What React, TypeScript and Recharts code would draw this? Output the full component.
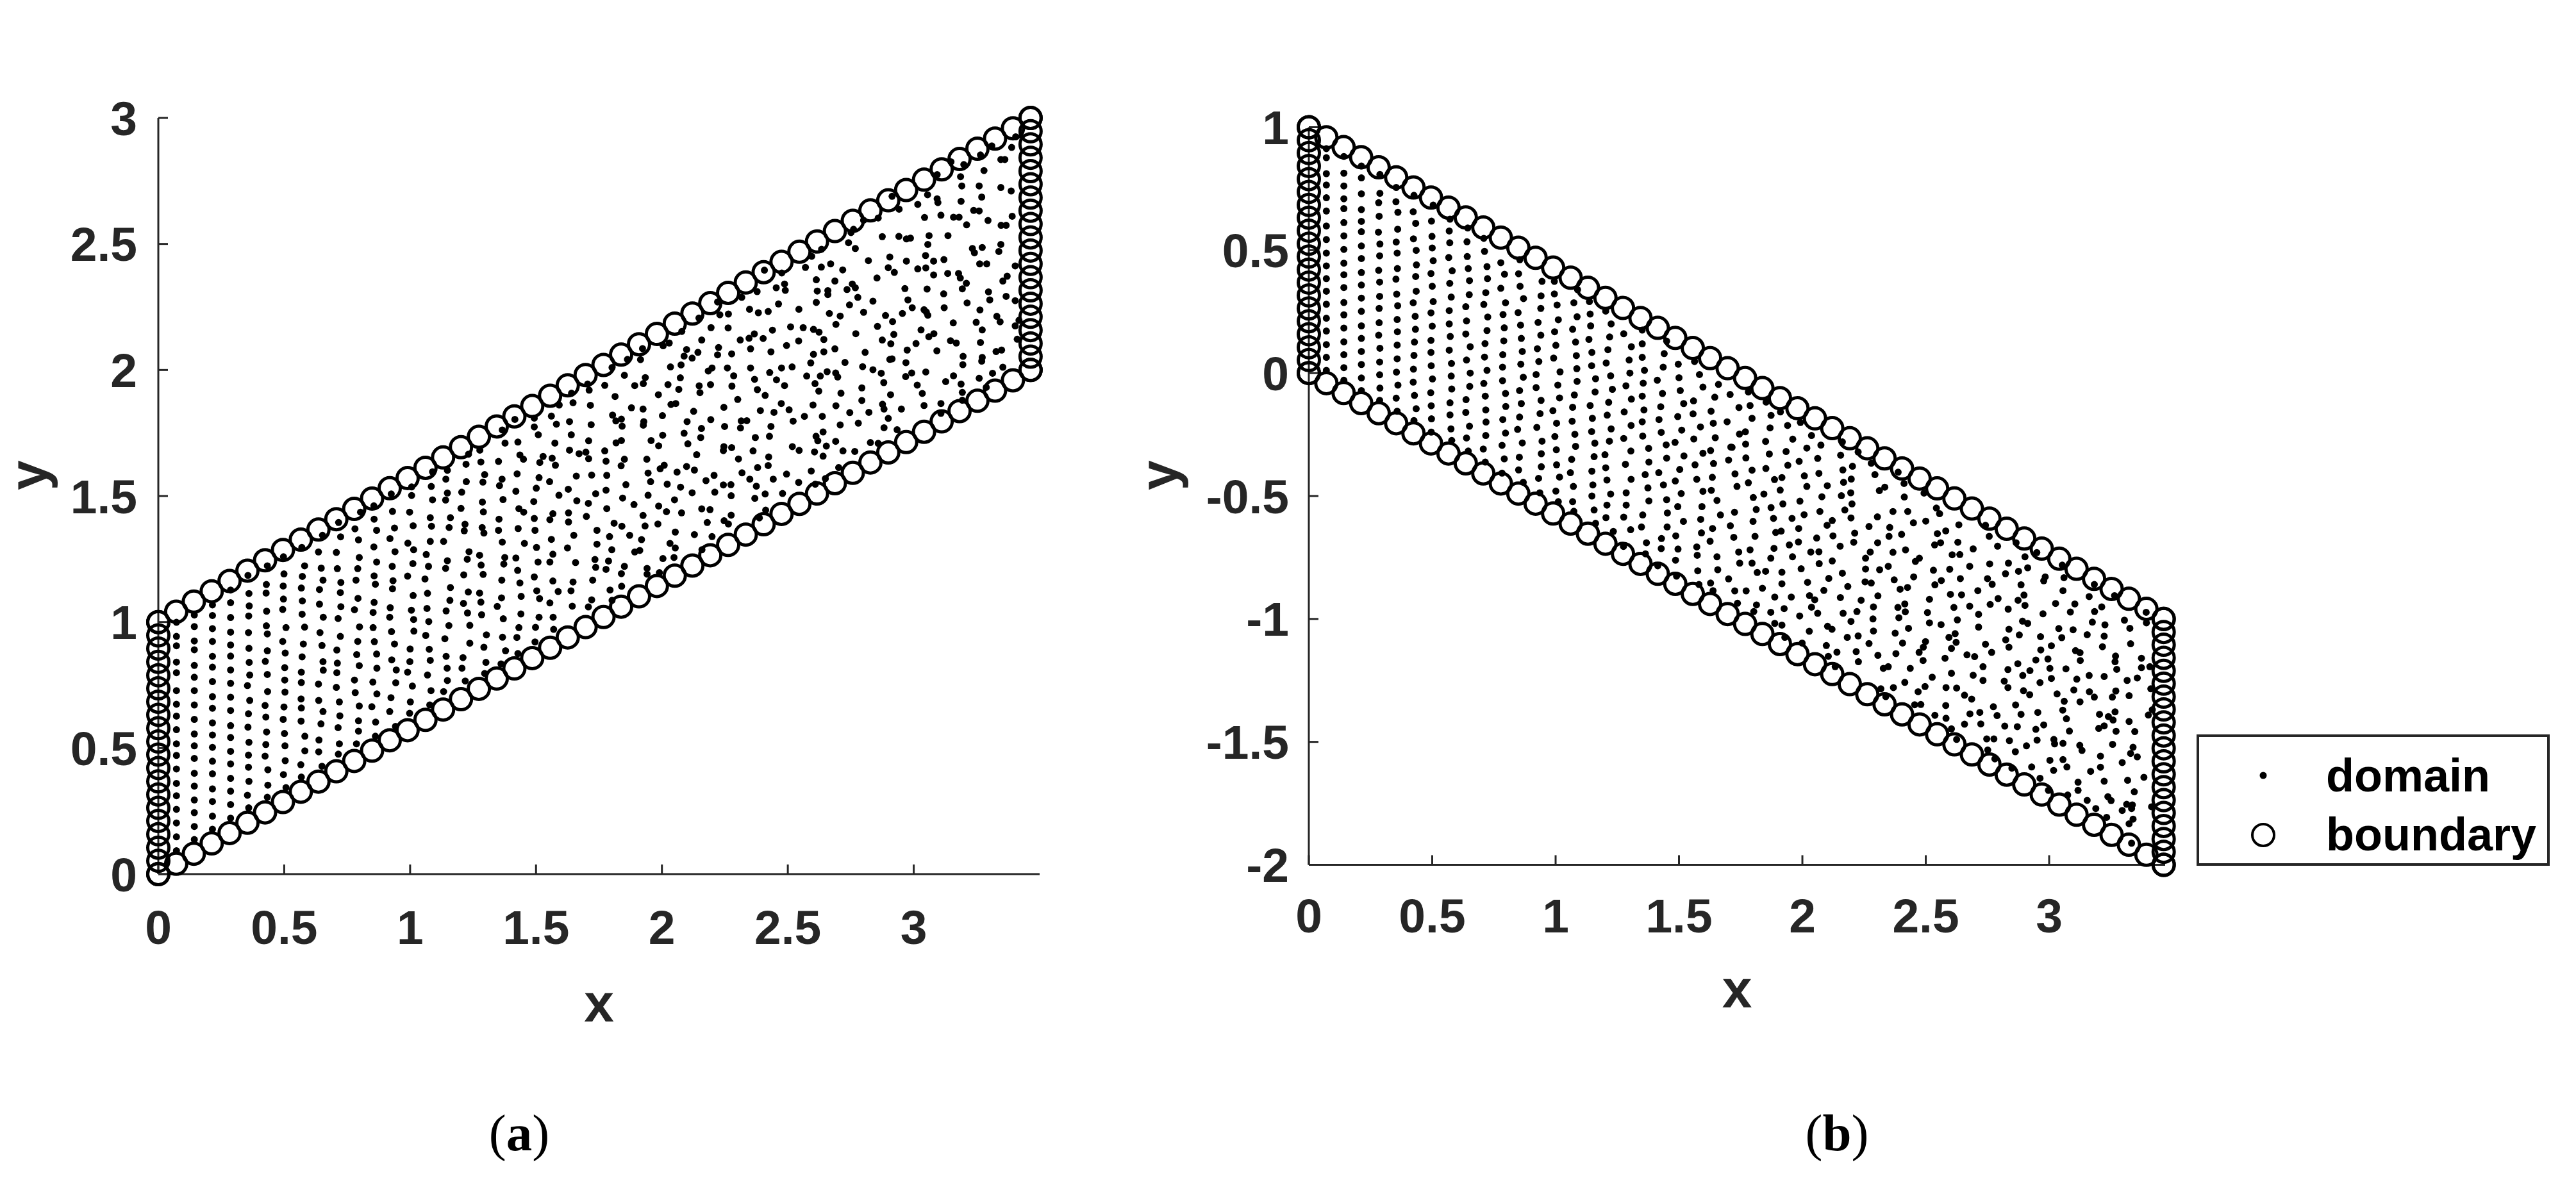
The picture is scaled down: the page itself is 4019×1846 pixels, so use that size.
import { Legend, Scatter, ScatterChart, XAxis, YAxis } from "recharts"

type Pair = number[]

const xTicks = [0, 0.5, 1, 1.5, 2, 2.5, 3]
const yTicksA = [0, 0.5, 1, 1.5, 2, 2.5, 3]
const yTicksB = [-2, -1.5, -1, -0.5, 0, 0.5, 1]
const legendLabels = ["domain", "boundary"]

// shared spacing of the slanted edges
const edgeX = [0,.071,.141,.212,.283,.354,.424,.495,.566,.636,.707,.778,.849,.919,.99,1.061,1.131,1.202,1.273,1.344,1.414,1.485,1.556,1.626,1.697,1.768,1.838,1.909,1.98,2.051,2.121,2.192,2.263,2.333,2.404,2.475,2.546,2.616,2.687,2.758,2.828,2.899,2.97,3.041,3.111,3.182,3.253,3.323,3.394,3.464]
const aLowerY = [0,.041,.081,.122,.163,.204,.245,.286,.327,.367,.408,.449,.49,.531,.571,.612,.653,.694,.735,.776,.816,.857,.898,.939,.98,1.02,1.061,1.102,1.143,1.184,1.224,1.265,1.306,1.347,1.388,1.429,1.469,1.51,1.551,1.592,1.633,1.673,1.714,1.755,1.796,1.837,1.878,1.918,1.959,2]
const aUpperY = [1,1.041,1.081,1.122,1.163,1.204,1.245,1.286,1.327,1.367,1.408,1.449,1.49,1.531,1.571,1.612,1.653,1.694,1.735,1.776,1.816,1.857,1.898,1.939,1.98,2.02,2.061,2.102,2.143,2.184,2.224,2.265,2.306,2.347,2.388,2.429,2.469,2.51,2.551,2.592,2.633,2.673,2.714,2.755,2.796,2.837,2.878,2.918,2.959,3]
const aLeftY = [0,.053,.105,.158,.211,.263,.316,.368,.421,.474,.526,.579,.632,.684,.737,.789,.842,.895,.947,1]
const aRightY = [2,2.053,2.105,2.158,2.211,2.263,2.316,2.368,2.421,2.474,2.526,2.579,2.632,2.684,2.737,2.789,2.842,2.895,2.947,3]
const bUpperY = [1,.959,.919,.878,.837,.796,.755,.714,.673,.633,.592,.551,.51,.469,.429,.388,.347,.306,.265,.224,.184,.143,.102,.061,.02,-.02,-.061,-.102,-.143,-.184,-.224,-.265,-.306,-.347,-.388,-.429,-.469,-.51,-.551,-.592,-.633,-.673,-.714,-.755,-.796,-.837,-.878,-.918,-.959,-1]
const bLowerY = [0,-.041,-.081,-.122,-.163,-.204,-.245,-.286,-.327,-.367,-.408,-.449,-.49,-.531,-.571,-.612,-.653,-.694,-.735,-.776,-.816,-.857,-.898,-.939,-.98,-1.02,-1.061,-1.102,-1.143,-1.184,-1.224,-1.265,-1.306,-1.347,-1.388,-1.429,-1.469,-1.51,-1.551,-1.592,-1.633,-1.673,-1.714,-1.755,-1.796,-1.837,-1.878,-1.918,-1.959,-2]
const bLeftY = [1,.947,.895,.842,.789,.737,.684,.632,.579,.526,.474,.421,.368,.316,.263,.211,.158,.105,.053,0]
const bRightY = [-1,-1.053,-1.105,-1.158,-1.211,-1.263,-1.316,-1.368,-1.421,-1.474,-1.526,-1.579,-1.632,-1.684,-1.737,-1.789,-1.842,-1.895,-1.947,-2]

const aDomain: Pair[] = [
[.072,.999],[.072,.943],[.072,.906],[.072,.841],[.072,.799],[.072,.728],[.072,.674],[.072,.627],[.072,.573],[.072,.517],[.072,.471],[.072,.417],[.072,.36],[.072,.311],[.072,.257],[.072,.203],[.072,.148],[.072,.093],
[.143,1.028],[.143,.982],[.143,.925],[.143,.89],[.143,.828],[.143,.781],[.143,.728],[.143,.671],[.143,.614],[.143,.556],[.143,.509],[.143,.459],[.143,.4],[.143,.349],[.143,.294],[.143,.244],[.143,.189],[.143,.137],
[.215,1.068],[.215,1.026],[.215,.974],[.215,.923],[.215,.864],[.215,.821],[.215,.764],[.215,.704],[.215,.658],[.215,.6],[.215,.552],[.215,.503],[.215,.448],[.215,.398],[.215,.338],[.215,.288],[.215,.23],[.215,.178],
[.287,1.127],[.287,1.077],[.287,1.018],[.287,.96],[.287,.909],[.287,.865],[.287,.81],[.287,.757],[.287,.702],[.287,.649],[.287,.589],[.287,.542],[.287,.487],[.287,.437],[.287,.38],[.287,.329],[.287,.276],[.287,.222],
[.356,1.185],[.36,1.113],[.361,1.064],[.359,1.024],[.358,.958],[.36,.896],[.361,.84],[.363,.79],[.354,.748],[.363,.689],[.358,.636],[.356,.583],[.36,.523],[.358,.472],[.358,.424],[.36,.368],[.354,.313],[.359,.263],
[.433,1.223],[.429,1.149],[.428,1.115],[.43,1.043],[.429,.985],[.433,.953],[.433,.886],[.425,.844],[.433,.792],[.434,.724],[.424,.669],[.427,.623],[.43,.564],[.427,.514],[.424,.468],[.435,.414],[.435,.353],[.433,.305],
[.497,1.259],[.499,1.191],[.496,1.143],[.497,1.091],[.494,1.05],[.507,.978],[.494,.923],[.504,.877],[.502,.819],[.502,.77],[.503,.722],[.499,.663],[.496,.614],[.501,.558],[.503,.509],[.504,.45],[.497,.395],[.507,.343],
[.57,1.296],[.581,1.223],[.572,1.181],[.568,1.135],[.572,1.084],[.571,1.031],[.581,.98],[.576,.913],[.571,.862],[.568,.801],[.568,.76],[.567,.695],[.568,.659],[.567,.607],[.582,.547],[.582,.489],[.566,.434],[.568,.385],
[.652,1.344],[.636,1.278],[.647,1.214],[.654,1.166],[.64,1.129],[.64,1.071],[.655,1.019],[.642,.958],[.65,.907],[.654,.843],[.655,.809],[.636,.754],[.637,.689],[.654,.645],[.646,.596],[.638,.532],[.637,.485],[.65,.428],
[.716,1.395],[.724,1.338],[.707,1.276],[.711,1.212],[.725,1.157],[.723,1.117],[.725,1.061],[.714,1.014],[.723,.943],[.709,.889],[.711,.837],[.709,.799],[.707,.741],[.719,.683],[.721,.628],[.714,.581],[.719,.517],[.715,.476],
[.803,1.436],[.781,1.37],[.795,1.326],[.798,1.256],[.792,1.212],[.785,1.166],[.793,1.094],[.779,1.049],[.799,.981],[.792,.923],[.788,.871],[.798,.827],[.779,.77],[.782,.72],[.798,.667],[.795,.608],[.795,.567],[.787,.517],
[.857,1.408],[.867,1.364],[.856,1.298],[.867,1.238],[.857,1.183],[.862,1.15],[.857,1.078],[.853,1.038],[.853,.978],[.858,.922],[.867,.873],[.868,.817],[.852,.762],[.868,.715],[.848,.664],[.863,.603],[.862,.547],
[.93,1.439],[.938,1.373],[.92,1.331],[.94,1.279],[.929,1.221],[.932,1.164],[.93,1.132],[.921,1.057],[.919,1.019],[.926,.962],[.938,.913],[.927,.85],[.945,.81],[.943,.759],[.924,.7],[.919,.645],[.942,.586],
[.998,1.436],[1.012,1.382],[.991,1.313],[1.014,1.287],[1.011,1.232],[.99,1.182],[1.012,1.105],[1.005,1.047],[1.014,1.01],[1.015,.964],[1,.893],[.999,.843],[.99,.801],[1.009,.746],[1.001,.683],[.998,.638],
[1.08,1.414],[1.085,1.38],[1.08,1.32],[1.064,1.268],[1.073,1.221],[1.059,1.171],[1.069,1.114],[1.067,1.054],[1.074,1.002],[1.062,.947],[1.076,.892],[1.08,.848],[1.069,.79],[1.083,.728],[1.078,.671],
[1.16,1.414],[1.155,1.375],[1.133,1.32],[1.148,1.243],[1.141,1.213],[1.16,1.137],[1.158,1.086],[1.143,1.044],[1.154,.986],[1.138,.934],[1.143,.864],[1.147,.817],[1.148,.768],[1.133,.724],
[1.218,1.388],[1.215,1.362],[1.234,1.279],[1.227,1.249],[1.213,1.187],[1.231,1.119],[1.212,1.074],[1.228,1.036],[1.237,.987],[1.237,.916],[1.21,.859],[1.206,.817],[1.219,.766],
[1.286,1.375],[1.293,1.353],[1.276,1.265],[1.282,1.226],[1.29,1.189],[1.276,1.115],[1.281,1.079],[1.284,1.029],[1.303,.949],[1.293,.9],[1.301,.84],[1.296,.796],
[1.353,1.408],[1.351,1.364],[1.366,1.317],[1.376,1.256],[1.372,1.23],[1.364,1.166],[1.363,1.096],[1.346,1.062],[1.37,1.013],[1.367,.94],[1.379,.886],[1.361,.834],
[1.432,1.45],[1.451,1.436],[1.429,1.371],[1.454,1.312],[1.42,1.254],[1.427,1.205],[1.436,1.155],[1.441,1.102],[1.44,1.032],[1.432,.978],[1.424,.939],[1.428,.875],
[1.493,1.411],[1.496,1.364],[1.502,1.296],[1.508,1.238],[1.493,1.179],[1.503,1.124],[1.514,1.093],[1.512,1.019],[1.498,.979],[1.496,.921],
[1.567,1.43],[1.555,1.406],[1.561,1.328],[1.567,1.269],[1.555,1.238],[1.567,1.163],[1.588,1.121],[1.555,1.076],[1.568,1.019],[1.57,.971],
[1.629,1.433],[1.629,1.397],[1.65,1.344],[1.625,1.294],[1.657,1.236],[1.647,1.159],[1.639,1.124],[1.644,1.063],
[1.7,1.419],[1.742,1.364],[1.742,1.309],[1.734,1.248],[1.737,1.217],[1.725,1.166],[1.721,1.088],[1.708,1.06],
[1.705,1.944],[1.711,1.92],[1.641,1.908],[1.592,1.861],[1.647,1.87],[1.716,1.86],[1.561,1.817],[1.493,1.809],[1.416,1.804],[1.633,1.795],[1.581,1.785],[1.719,1.783],[1.493,1.774],[1.366,1.762],[1.64,1.743],[1.509,1.743],[1.709,1.719],[1.377,1.71],[1.428,1.714],[1.575,1.71],[1.633,1.682],[1.277,1.682],[1.232,1.666],[1.671,1.668],[1.698,1.674],[1.436,1.663],[1.45,1.646],[1.528,1.657],[1.564,1.65],[1.709,1.648],[1.515,1.633],[1.351,1.637],[1.281,1.635],[1.222,1.626],[1.577,1.622],[1.148,1.602],[1.089,1.596],[1.296,1.585],[1.425,1.588],[1.721,1.583],[1.66,1.579],[1.512,1.573],[1.142,1.567],[1.365,1.567],[1.223,1.557],[1.289,1.555],[1.554,1.557],[1.355,1.541],[1.084,1.538],[1.006,1.536],[1.501,1.531],[1.628,1.527],[1.42,1.519],[1.205,1.515],[1.148,1.512],[1.737,1.509],[.925,1.508],[1.006,1.502],[1.591,1.503],[1.089,1.485],[1.141,1.484],[1.369,1.486],[1.287,1.476],[1.491,1.478],[1.662,1.481],[1.708,1.471],[.856,1.461],[1.202,1.451],[1.291,1.437],
[3.405,2.925],[3.389,2.883],[3.31,2.889],[3.265,2.853],[3.199,2.815],[3.148,2.826],[3.346,2.835],[3.362,2.835],[3.279,2.791],[3.186,2.767],[3.093,2.775],[3.191,2.73],[3.26,2.73],[3.346,2.724],[3.387,2.71],[3.055,2.695],[2.914,2.689],[3.27,2.686],[3.093,2.679],[3.096,2.664],[3.188,2.669],[3.016,2.657],[2.942,2.638],[3.238,2.633],[3.26,2.631],[3.108,2.614],[3.043,2.605],[3.158,2.606],[3.18,2.606],[3.391,2.61],[3.295,2.593],[3.21,2.576],[3.347,2.574],[3.367,2.574],[2.859,2.603],[2.801,2.594],[2.761,2.558],[2.751,2.545],[2.875,2.529],[2.941,2.53],[2.971,2.52],[2.987,2.523],[3.061,2.533],[3.136,2.533],[2.741,2.505],[2.768,2.482],[3.056,2.498],[3.233,2.482],[3.272,2.486],[3.346,2.498],[3.338,2.47],[3.241,2.465],[2.634,2.479],[2.595,2.451],[3.047,2.454],[2.905,2.448],[2.82,2.434],[2.971,2.432],[3.079,2.432],[3.12,2.438],[3.262,2.421],[3.29,2.421],[2.57,2.407],[2.633,2.408],[2.67,2.421],[2.407,2.396],[2.718,2.397],[2.899,2.406],[3.016,2.401],[3.048,2.405],[3.403,2.413],[2.476,2.385],[2.923,2.387],[3.079,2.377],[3.135,2.383],[3.178,2.383],[3.185,2.365],[2.854,2.365],[2.613,2.358],[2.687,2.353],[3.371,2.372],[3.354,2.353],[3.209,2.344],[2.756,2.341],[2.454,2.326],[2.487,2.341],[2.49,2.316],[2.768,2.326],[2.735,2.319],[2.617,2.313],[2.659,2.315],[2.659,2.299],[2.965,2.323],[3.053,2.321],[3.193,2.322],[2.378,2.311],[3.119,2.302],[3.297,2.31],[2.778,2.288],[3.367,2.292],[2.317,2.288],[2.977,2.278],[2.838,2.273],[3.302,2.278],[2.613,2.268],[2.463,2.262],[2.745,2.258],[3.212,2.266],[3.403,2.275],[2.221,2.27],
[2.994,2.247],[3.121,2.247],[2.544,2.241],[2.348,2.241],[2.422,2.232],[2.383,2.227],[3.041,2.239],[2.801,2.229],[3.263,2.238],[2.665,2.224],[3.05,2.23],[3.056,2.217],[2.955,2.224],[2.23,2.219],[2.264,2.222],[2.888,2.216],[2.708,2.214],[2.147,2.206],[3.33,2.213],[3.343,2.191],[2.916,2.192],[3.157,2.187],[3.248,2.189],[2.691,2.181],[3.418,2.197],[2.856,2.173],[2.511,2.171],[2.561,2.168],[2.195,2.168],[2.263,2.167],[2.602,2.161],[3.403,2.175],[3.272,2.159],[2.439,2.158],[3.029,2.159],[2.079,2.153],[2.624,2.15],[3.08,2.144],[2.367,2.143],[2.77,2.144],[2.921,2.141],[3.06,2.132],[2.346,2.126],[2.402,2.125],[2.311,2.119],[2.643,2.121],[2.158,2.119],[2.875,2.119],[2.543,2.115],[3.411,2.122],[3.146,2.116],[3.169,2.107],[3.265,2.109],[2.029,2.107],[2.005,2.096],[2.909,2.104],[3.009,2.105],[2.495,2.097],[2.225,2.089],[2.687,2.084],[1.923,2.085],[2.352,2.084],[2.974,2.079],[2.098,2.081],[3.349,2.079],[3.327,2.073],[2.433,2.072],[2.643,2.072],[2.143,2.07],[2.807,2.07],[3.092,2.076],[2.221,2.06],[2.277,2.064],[2.088,2.055],[2.602,2.062],[3.196,2.054],[1.863,2.042],[2.12,2.047],[1.915,2.041],[3.272,2.05],[2.914,2.044],[2.905,2.042],[3.27,2.035],[2.969,2.029],[2.727,2.03],[2.591,2.028],[2.076,2.02],[3.195,2.021],[2.034,2.012],[1.802,2.01],[2.517,2.012],[2.26,2.008],[2.352,2.008],[2.797,2.013],[2.475,2.008],[2.199,2.008],[3.354,2.011],[2.838,2.001],[2.184,1.996],[1.851,1.979],[2.428,1.99],[2.656,1.993],[3.048,1.992],[2.871,1.987],[2.992,1.988],[2.968,1.974],[2.69,1.988],[2.698,1.972],[2.285,1.977],[2.629,1.976],[2.575,1.976],[3.313,1.987],[3.158,1.977],[2.073,1.969],[2.368,1.963],[1.934,1.97],[2.455,1.961],[3.26,1.967],[2.881,1.95],[3.127,1.954],[1.926,1.946],[1.892,1.938],[1.773,1.939],[2.024,1.942],[2.608,1.946],[2.193,1.942],[2.278,1.936],[2.487,1.938],[3.188,1.944],[3.014,1.94],[2.148,1.937],[2.794,1.929],[2.067,1.923],[2.379,1.922],[3.288,1.931],[2.623,1.916],[2.151,1.91],[3.034,1.907],[2.711,1.908],[3.193,1.911],[1.986,1.902],[2.41,1.899],[1.814,1.895],[2.908,1.902],[2.301,1.883],[2.794,1.879],[2.055,1.867],[2.036,1.863],[2.474,1.867],[2.876,1.864],[3.041,1.859],[2.6,1.861],[2.691,1.858],[2.246,1.852],[1.879,1.85],[2.505,1.842],[3.193,1.88],[1.925,1.845],[2.882,1.845],[2.391,1.839],[2.951,1.845],[2.126,1.836],[2.445,1.832],[2.746,1.831],[2.822,1.832],[3.108,1.867],[1.804,1.821],[2.002,1.819],[2.566,1.816],[2.637,1.816],[3.108,1.828],[2.899,1.808],[1.839,1.805],[2.194,1.803],[1.817,1.798],[1.928,1.795],[2.1,1.795],[2.315,1.798],[2.337,1.799],[2.521,1.797],[2.78,1.789],[2.708,1.782],[1.842,1.777],[1.926,1.781],[2.433,1.776],[2.249,1.776],[2.312,1.77],[2.882,1.771],[2.157,1.768],[2.934,1.763],[2.64,1.754],[2.003,1.741],[2.088,1.749],[2.427,1.737],[2.154,1.732],[2.612,1.737],[2.371,1.732],[2.619,1.719],[2.69,1.717],[1.957,1.72],[1.839,1.72],[1.818,1.711],[2.103,1.707],[2.828,1.712],[2.859,1.709],[1.987,1.699],[2.653,1.698],[2.246,1.696],[2.277,1.692],[2.518,1.696],[2.244,1.68],[2.545,1.681],[1.773,1.679],[2.362,1.679],[2.719,1.679],[2.766,1.677],[2.606,1.675],[2.138,1.664],[2.64,1.658],[2.424,1.655],[1.94,1.646],[2.304,1.647],[1.851,1.646],[1.778,1.638],[2.009,1.622],[1.993,1.608],[1.838,1.62],[2.098,1.617],[2.422,1.621],[2.38,1.613],[2.702,1.613],[2.129,1.603],[2.06,1.595],[2.593,1.599],[1.945,1.591],[2.318,1.592],[1.781,1.582],[2.495,1.587],[2.207,1.582],[2.649,1.569],[2.349,1.567],[2.442,1.567],[2.175,1.561],[1.955,1.557],[2.543,1.554],[2.609,1.547],[1.857,1.545],[2.021,1.547],[2.244,1.544],[2.274,1.545],[2.375,1.539],[2.074,1.535],[1.778,1.523],[2.12,1.513],[2.21,1.515],[2.41,1.508],[2.479,1.51],[1.945,1.503],[2.275,1.501],[1.844,1.492],[2.369,1.491],[2.05,1.485],
[1.781,1.45],[1.889,1.466],[1.987,1.46],[2.018,1.438],[2.078,1.433],[2.158,1.449],[2.191,1.446],[1.925,1.423],[2.275,1.424],[2.412,1.444],[1.81,1.392],[1.841,1.38],[1.933,1.381],[1.984,1.389],[2.18,1.395],[2.247,1.402],[2.264,1.389],[2.387,1.413],[1.792,1.339],[1.872,1.344],[1.919,1.327],[2.053,1.357],[2.129,1.347],[2.199,1.339],[1.801,1.287],[2.032,1.312],[2.053,1.294],[1.892,1.278],[1.912,1.284],[2.159,1.287],[1.788,1.242],[2.004,1.252],[2.048,1.256],[1.778,1.209],[1.851,1.221],[1.839,1.192],[1.941,1.213],[1.941,1.19],[1.99,1.196],[1.84,1.142],[1.794,1.127],[1.802,1.086],
]

const bDomain: Pair[] = [
[.071,.913],[.071,.876],[.071,.811],[.071,.765],[.071,.713],[.071,.659],[.071,.598],[.071,.543],[.071,.488],[.071,.436],[.071,.384],[.071,.333],[.071,.28],[.071,.223],[.071,.171],[.071,.116],[.071,.064],[.071,.011],
[.142,.881],[.142,.813],[.142,.761],[.142,.709],[.142,.669],[.142,.612],[.142,.558],[.142,.503],[.142,.447],[.142,.4],[.142,.348],[.142,.287],[.142,.237],[.142,.183],[.142,.127],[.142,.075],[.142,.022],[.142,-.029],
[.213,.842],[.213,.794],[.213,.729],[.213,.665],[.213,.617],[.213,.575],[.213,.517],[.213,.466],[.213,.409],[.213,.358],[.213,.305],[.213,.251],[.213,.192],[.213,.141],[.213,.088],[.213,.035],[.213,-.02],[.213,-.071],
[.288,.808],[.288,.731],[.283,.693],[.285,.638],[.282,.573],[.288,.525],[.287,.477],[.283,.418],[.287,.37],[.287,.312],[.285,.263],[.285,.205],[.283,.154],[.288,.101],[.287,.045],[.287,-.007],[.288,-.061],[.287,-.111],
[.354,.755],[.353,.697],[.361,.654],[.36,.585],[.354,.533],[.358,.488],[.359,.425],[.353,.382],[.356,.321],[.36,.274],[.358,.218],[.359,.168],[.358,.114],[.358,.058],[.355,.004],[.361,-.049],[.354,-.102],[.358,-.155],
[.426,.723],[.423,.656],[.433,.609],[.424,.546],[.435,.499],[.436,.44],[.433,.393],[.435,.333],[.423,.286],[.431,.231],[.432,.178],[.428,.126],[.426,.072],[.424,.016],[.423,-.037],[.428,-.091],[.435,-.145],[.426,-.193],
[.504,.683],[.497,.618],[.499,.556],[.5,.509],[.504,.457],[.495,.405],[.5,.353],[.504,.291],[.495,.245],[.5,.191],[.495,.133],[.495,.084],[.496,.03],[.501,-.024],[.494,-.08],[.496,-.133],[.497,-.186],[.496,-.24],
[.572,.626],[.569,.578],[.571,.53],[.567,.47],[.581,.416],[.571,.365],[.577,.309],[.569,.254],[.569,.2],[.573,.149],[.569,.093],[.578,.039],[.577,-.012],[.579,-.065],[.572,-.121],[.572,-.17],[.576,-.227],[.579,-.274],
[.644,.59],[.641,.534],[.642,.474],[.646,.425],[.651,.376],[.65,.319],[.636,.27],[.639,.212],[.636,.159],[.654,.107],[.639,.053],[.654,0],[.652,-.054],[.637,-.108],[.636,-.16],[.651,-.216],[.639,-.264],[.646,-.317],
[.709,.548],[.712,.495],[.722,.433],[.724,.384],[.717,.327],[.709,.279],[.725,.228],[.722,.173],[.714,.12],[.712,.065],[.722,.011],[.709,-.042],[.715,-.094],[.717,-.15],[.718,-.199],[.717,-.254],[.707,-.309],[.715,-.362],
[.778,.449],[.793,.402],[.778,.345],[.797,.286],[.787,.238],[.792,.184],[.79,.131],[.786,.075],[.785,.024],[.785,-.031],[.797,-.083],[.798,-.136],[.786,-.189],[.797,-.244],[.783,-.294],[.792,-.349],[.783,-.407],
[.855,.461],[.85,.404],[.856,.353],[.87,.303],[.848,.246],[.858,.195],[.861,.141],[.865,.088],[.859,.036],[.869,-.017],[.854,-.071],[.861,-.124],[.854,-.179],[.846,-.229],[.865,-.284],[.853,-.342],[.85,-.394],[.869,-.444],
[.945,.373],[.941,.314],[.94,.263],[.929,.206],[.94,.154],[.926,.099],[.932,.047],[.921,-.006],[.921,-.059],[.941,-.111],[.937,-.165],[.924,-.221],[.945,-.277],[.942,-.328],[.942,-.381],[.931,-.428],[.936,-.487],
[.995,.373],[.995,.322],[1.006,.277],[1.011,.217],[.996,.168],[1.001,.113],[.992,.061],[1.018,.005],[1.009,-.049],[1.016,-.101],[.989,-.153],[1.004,-.204],[.997,-.258],[1.003,-.312],[1.004,-.373],[1.016,-.423],[1.001,-.48],[1.011,-.523],
[1.089,.339],[1.074,.286],[1.087,.229],[1.069,.178],[1.081,.126],[1.084,.071],[1.086,.018],[1.087,-.034],[1.076,-.089],[1.069,-.139],[1.067,-.196],[1.078,-.249],[1.081,-.298],[1.065,-.351],[1.06,-.405],[1.072,-.461],[1.069,-.523],[1.074,-.562],
[1.137,.291],[1.14,.24],[1.142,.192],[1.135,.137],[1.147,.084],[1.146,.03],[1.162,-.023],[1.16,-.077],[1.14,-.132],[1.149,-.184],[1.146,-.238],[1.159,-.285],[1.156,-.34],[1.147,-.399],[1.151,-.455],[1.147,-.5],[1.156,-.557],
[1.203,.252],[1.225,.2],[1.219,.147],[1.212,.095],[1.205,.041],[1.223,-.011],[1.23,-.066],[1.215,-.119],[1.209,-.171],[1.225,-.227],[1.218,-.277],[1.2,-.332],[1.203,-.385],[1.208,-.435],[1.223,-.492],[1.208,-.537],[1.204,-.588],
[1.276,.16],[1.307,.107],[1.351,.119],[1.351,.064],[1.298,.053],[1.301,0],[1.36,.011],[1.285,-.052],[1.355,-.041],[1.307,-.106],[1.351,-.094],[1.278,-.158],[1.358,-.15],[1.306,-.213],[1.351,-.198],[1.276,-.266],[1.353,-.256],[1.305,-.317],[1.377,-.306],[1.283,-.371],[1.378,-.362],[1.363,-.413],[1.306,-.432],[1.286,-.487],[1.374,-.467],[1.378,-.52],[1.286,-.537],[1.276,-.586],[1.353,-.577],[1.351,.175],
[1.45,.13],[1.44,.079],[1.497,.036],[1.436,.024],[1.5,-.019],[1.412,-.029],[1.505,-.071],[1.433,-.083],[1.519,-.124],[1.559,-.113],[1.426,-.137],[1.495,-.177],[1.557,-.166],[1.419,-.189],[1.587,-.219],[1.511,-.232],[1.428,-.241],[1.56,-.268],[1.484,-.282],[1.448,-.292],[1.583,-.006],[1.563,.047],[1.66,-.046],[1.597,-.057],[1.645,-.098],[1.707,-.087],[1.63,-.155],[1.639,-.204],[1.695,-.198],[1.647,-.263],[1.628,-.315],[1.597,-.326],[1.71,-.301],[1.52,-.337],[1.45,-.346],[1.64,-.368],[1.701,-.354],[1.565,-.373],[1.503,-.392],[1.418,-.405],[1.635,-.424],[1.572,-.432],[1.485,-.439],[1.437,-.455],[1.631,-.477],[1.597,-.481],[1.509,-.49],[1.45,-.515],[1.654,-.518],[1.593,-.543],[1.495,-.543],[1.668,-.577],[1.453,-.569],
[1.452,-.626],[1.518,-.603],[1.588,-.595],[1.636,-.632],[1.708,-.621],[1.591,-.65],[1.626,-.684],[1.304,-.637],[1.348,-.626],[1.234,-.644],[1.162,-.611],[1.429,-.673],[1.487,-.662],[1.368,-.69],[1.572,-.707],[1.428,-.714],[1.496,-.716],[1.275,-.705],[1.364,-.735],[1.574,-.741],[1.654,-.747],[1.486,-.761],[1.414,-.784],[1.576,-.804],[1.657,-.8],[1.49,-.826],[1.701,-.837],[1.628,-.854],[1.581,-.86],[1.638,-.885],
[1.781,-.077],[1.853,-.118],[1.911,-.158],[1.788,-.132],[1.743,-.14],[1.992,-.201],[1.873,-.172],[1.796,-.184],[1.869,-.223],[1.94,-.213],[1.769,-.239],[1.745,-.248],[2.037,-.254],[1.961,-.269],[1.851,-.278],[1.77,-.289],[1.715,-.302],[2.018,-.305],[2.075,-.293],[1.934,-.319],[1.866,-.329],[2.162,-.28],[2.226,-.321],[2.155,-.334],[1.771,-.345],[2.062,-.347],[1.987,-.359],[1.941,-.375],[2.279,-.367],[1.852,-.388],[1.796,-.395],[2.203,-.379],[2.164,-.394],[2.388,-.403],[2.294,-.413],[1.727,-.41],[2.008,-.418],[2.067,-.408],[1.887,-.433],[1.917,-.425],[2.198,-.431],[1.781,-.446],[2.167,-.444],[2.412,-.449],[1.735,-.461],[2.018,-.461],[2.101,-.458],[2.334,-.464],[2.312,-.478],[1.91,-.476],[2.196,-.487],[1.844,-.492],[2.493,-.488],[2.158,-.499],[2.079,-.503],[1.801,-.506],[2.413,-.504],
[1.725,-.566],[1.813,-.555],[1.873,-.547],[1.921,-.532],[1.99,-.521],[2.201,-.532],[2.172,-.557],[2.071,-.563],[2.007,-.576],[2.197,-.589],[1.883,-.591],[1.958,-.591],[1.8,-.603],[2.304,-.585],[2.367,-.563],[2.427,-.563],[2.5,-.602],[2.543,-.549],[2.556,-.572],[2.45,-.609],[2.634,-.617],[2.1,-.619],[2.121,-.6],[2.27,-.624],[2.354,-.628],[1.985,-.632],[2.581,-.642],[1.892,-.648],[1.914,-.643],[2.212,-.651],[2.402,-.656],[2.547,-.653],[1.808,-.664],[1.722,-.668],[2.124,-.662],[2.351,-.664],[2.757,-.664],[2.742,-.619],[2.058,-.671],[2.208,-.688],[2.305,-.69],[2.63,-.688],[2.56,-.69],[2.536,-.699],[1.984,-.687],[1.947,-.699],[2.153,-.704],[2.791,-.704],[2.866,-.69],[1.885,-.713],[2.692,-.715],[2.418,-.719],[1.788,-.719],[1.742,-.728],[2.067,-.727],[2.034,-.728],[2.275,-.728],[2.367,-.729],[2.95,-.73],[1.96,-.747],[2.256,-.753],[1.872,-.753],[2.474,-.753],[2.458,-.766],[2.607,-.739],[2.638,-.738],[2.902,-.747],[1.796,-.773],[1.746,-.773],[2.068,-.775],[2.121,-.764],[1.995,-.796],[2.348,-.786],[2.313,-.8],[2.256,-.797],[2.759,-.776],[2.835,-.773],[2.678,-.786],[2.597,-.798],[2.531,-.802],[2.913,-.792],[2.876,-.806],[2.823,-.816],[3.053,-.781],[1.817,-.811],[1.851,-.806],[1.917,-.81],[2.162,-.814],[3.06,-.832],[2.984,-.829],[2.978,-.845],[2.107,-.835],[2.451,-.829],[2.64,-.836],[2.563,-.844],[2.75,-.836],[2.769,-.859],[2.372,-.841],[2.254,-.849],[2.279,-.854],[2.021,-.851],[1.917,-.857],[2.537,-.861],[2.886,-.861],[1.838,-.875],[2.184,-.868],[2.426,-.872],[2.396,-.879],[1.772,-.886],[1.726,-.886],[2.087,-.884],[3.056,-.885],[2.711,-.885],[3.183,-.86],[3.265,-.905],[2.6,-.9],[2.645,-.902],[1.955,-.911],[1.888,-.911],[2.306,-.906],[2.029,-.905],[2.154,-.913],[2.05,-.922],[2.515,-.92],[2.793,-.917],[2.898,-.903],[2.874,-.924],[2.238,-.924],[3.162,-.909],[3.026,-.937],[3.104,-.939],[2.761,-.941],[2.614,-.953],[2.678,-.948],[2.387,-.953],[2.415,-.939],[2.288,-.951],[2.902,-.945],[2.834,-.96],[1.737,-.936],[1.814,-.943],[2.037,-.952],[3.213,-.951],[3.184,-.97],[3.086,-.972],[3.393,-.973],[1.926,-.958],[2.221,-.97],[2.165,-.977],[2.062,-.977],[2.417,-.971],[2.507,-.974],[2.714,-.981],[2.975,-.979],[1.803,-.97],[1.872,-.973],[1.989,-.988],
[2.628,-1.004],[2.391,-.995],[2.286,-1],[3.305,-1.005],[3.394,-1.016],[3.175,-1.013],[2.197,-1.01],[2.892,-1.009],[2.913,-1.018],[2.515,-1.016],[2.562,-1.023],[2.714,-1.033],[1.888,-1.018],[1.917,-1.025],[3.226,-1.024],[3.039,-1.039],[3.097,-1.044],[3.327,-1.038],[2.837,-1.042],[2.102,-1.03],[2.12,-1.042],[2.43,-1.038],[2.288,-1.049],[2.028,-1.05],[2.376,-1.058],[2.879,-1.065],[3.154,-1.064],[2.619,-1.06],[3.223,-1.07],[2.182,-1.075],[2.226,-1.069],[1.929,-1.075],[2.965,-1.072],[3.051,-1.076],[2.594,-1.075],[3.33,-1.101],[2.824,-1.085],[2.837,-1.115],[2.499,-1.092],[1.999,-1.098],[2.406,-1.098],[2.27,-1.1],[2.623,-1.095],[3.009,-1.109],[2.742,-1.103],[3.216,-1.113],[2.097,-1.108],[2.604,-1.12],[2.49,-1.115],[2.966,-1.126],[2.473,-1.136],[2.767,-1.136],[3.107,-1.129],[3.125,-1.137],[2.379,-1.141],[2.218,-1.133],[2.14,-1.135],[2.667,-1.146],[2.698,-1.153],[2.306,-1.148],[2.105,-1.152],[3.269,-1.151],[2.946,-1.167],[2.995,-1.163],[3.374,-1.16],[2.578,-1.16],[2.489,-1.169],[2.227,-1.174],[3.126,-1.169],[3.267,-1.174],[2.873,-1.182],[2.133,-1.194],[2.348,-1.194],[2.328,-1.201],[2.437,-1.201],[2.732,-1.194],[3.003,-1.201],[3.068,-1.203],[3.374,-1.198],[3.408,-1.194],[3.274,-1.205],[2.833,-1.206],[2.922,-1.21],[2.604,-1.221],[2.692,-1.229],[2.893,-1.23],[3.162,-1.23],[3.009,-1.242],[3.223,-1.234],[2.526,-1.237],[3.112,-1.245],[3.357,-1.24],[2.732,-1.25],[2.818,-1.253],[3.316,-1.25],[2.415,-1.258],[2.963,-1.259],[2.497,-1.275],[2.369,-1.279],[2.469,-1.296],[2.582,-1.279],[2.625,-1.281],[2.833,-1.279],[2.318,-1.284],[3.1,-1.289],[3.412,-1.284],[2.896,-1.292],[3.163,-1.296],[2.921,-1.308],[3.032,-1.305],[3.27,-1.293],[3.256,-1.318],[3.324,-1.312],[2.657,-1.31],[2.686,-1.326],[3.183,-1.318],[2.338,-1.316],[3.061,-1.335],[3.125,-1.337],[2.581,-1.352],[2.455,-1.349],[2.48,-1.348],[2.864,-1.35],[2.774,-1.357],[3.055,-1.371],[3.267,-1.378],[3.402,-1.391],[3.418,-1.369],[2.719,-1.38],[2.679,-1.386],[2.954,-1.38],[2.886,-1.388],[2.789,-1.393],[2.537,-1.392],[3.204,-1.388],[3.24,-1.397],[3.259,-1.411],[2.582,-1.404],[3.07,-1.406],[3.324,-1.417],[2.657,-1.428],[2.723,-1.427],[2.978,-1.431],[2.82,-1.436],[2.871,-1.438],[3.223,-1.435],[3.201,-1.445],[3.271,-1.457],[2.946,-1.449],[3.347,-1.458],[3.082,-1.456],[2.604,-1.447],[2.747,-1.488],[2.776,-1.488],[2.625,-1.49],[2.839,-1.495],[3.019,-1.49],[3.022,-1.508],[2.951,-1.493],[3.056,-1.506],[3.124,-1.514],[3.133,-1.535],[3.257,-1.51],[2.908,-1.516],[3.34,-1.522],[2.863,-1.54],[2.751,-1.533],[3.33,-1.547],[3.357,-1.561],[2.78,-1.569],[3.208,-1.558],[3.003,-1.575],[3.056,-1.572],[3.296,-1.584],[3.208,-1.603],[3.072,-1.602],[3.018,-1.616],[2.929,-1.602],[2.849,-1.607],[3.168,-1.62],[3.384,-1.644],[2.963,-1.648],[3.318,-1.656],[3.223,-1.66],[3.117,-1.664],[2.997,-1.697],[3.117,-1.697],[3.345,-1.703],[3.075,-1.716],[3.238,-1.723],[3.251,-1.739],[3.154,-1.738],[3.314,-1.754],[3.337,-1.756],[3.296,-1.779],[3.334,-1.771],[3.415,-1.764],[3.189,-1.771],[3.233,-1.807],[3.34,-1.814],[3.324,-1.833],[3.334,-1.912],
]

const sansFont = "'Liberation Sans', Arial, sans-serif"
const serifFont = "'Liberation Serif', 'Times New Roman', serif"
const axisColor = "#262626"

const toPoints = (pairs: Pair[]) => pairs.map(([x, y]) => ({ x, y }))
const edgePoints = (xs: number[], ys: number[]) => xs.map((x, i) => ({ x, y: ys[i] }))

const aBoundary = [
  ...edgePoints(edgeX, aLowerY),
  ...edgePoints(edgeX, aUpperY),
  ...aLeftY.map((y) => ({ x: 0, y })),
  ...aRightY.map((y) => ({ x: 3.464, y })),
]
const bBoundary = [
  ...edgePoints(edgeX, bUpperY),
  ...edgePoints(edgeX, bLowerY),
  ...bLeftY.map((y) => ({ x: 0, y })),
  ...bRightY.map((y) => ({ x: 3.464, y })),
]

const Dot = (props: any) => <circle cx={props.cx} cy={props.cy} r={5.5} fill="#000" />
const Ring = (props: any) => <circle cx={props.cx} cy={props.cy} r={16.5} fill="none" stroke="#000" strokeWidth={5} />

const tickStyle = { fontSize: 75, fontWeight: 700, fontFamily: sansFont, fill: axisColor }
const lineStyle = { stroke: axisColor, strokeWidth: 3 }
const labelStyle = { fontSize: 84, fontWeight: 700, fontFamily: sansFont, fill: axisColor }

function LegendBox() {
  return (
    <div
      style={{
        boxSizing: "border-box",
        width: 551,
        height: 205,
        border: `4px solid ${axisColor}`,
        background: "#fff",
        position: "relative",
        fontFamily: sansFont,
        fontWeight: 700,
        fontSize: 72,
        color: "#000",
      }}
    >
      {legendLabels.map((name, i) => (
        <div key={name} style={{ position: "absolute", left: 198, top: 20 + i * 92, lineHeight: "80px", whiteSpace: "nowrap" }}>
          {name}
        </div>
      ))}
      <svg width={80} height={205} style={{ position: "absolute", left: 60, top: 0 }}>
        <circle cx={40} cy={60} r={5.5} fill="#000" />
        <circle cx={40} cy={153} r={17} fill="none" stroke="#000" strokeWidth={4} />
      </svg>
    </div>
  )
}

function Caption({ left, letter }: { left: number; letter: string }) {
  return (
    <div
      style={{
        position: "absolute",
        left: left - 100,
        top: 1720,
        width: 200,
        textAlign: "center",
        fontFamily: serifFont,
        fontSize: 81,
        lineHeight: "96px",
        color: "#000",
      }}
    >
      (<b>{letter}</b>)
    </div>
  )
}

export default function App() {
  return (
    <div style={{ position: "absolute", left: 0, top: 0, width: 4019, height: 1846, background: "#fff", overflow: "hidden" }}>
      <div style={{ position: "absolute", left: 0, top: 0 }}>
        <ScatterChart width={1800} height={1650} margin={{ top: 184, right: 178, bottom: 166, left: 100 }}>
          <XAxis
            type="number"
            dataKey="x"
            domain={[0, 3.5]}
            ticks={xTicks}
            interval={0}
            height={120}
            tickSize={-15}
            tickMargin={71}
            tick={tickStyle}
            axisLine={lineStyle}
            tickLine={lineStyle}
            label={{ value: "x", position: "bottom", offset: 50, ...labelStyle }}
          />
          <YAxis
            type="number"
            dataKey="y"
            domain={[0, 3]}
            ticks={yTicksA}
            interval={0}
            width={147}
            tickSize={-15}
            tickMargin={48}
            tick={tickStyle}
            axisLine={lineStyle}
            tickLine={lineStyle}
            label={{ value: "y", angle: -90, position: "insideLeft", offset: -57, dy: -9, ...labelStyle }}
          />
          <Scatter name="domain" data={toPoints(aDomain)} shape={Dot} isAnimationActive={false} />
          <Scatter name="boundary" data={aBoundary} shape={Ring} isAnimationActive={false} />
        </ScatterChart>
      </div>
      <div style={{ position: "absolute", left: 1700, top: 0 }}>
        <ScatterChart width={2319} height={1650} margin={{ top: 198.5, right: 641, bottom: 45.5, left: 242 }}>
          <XAxis
            type="number"
            dataKey="x"
            domain={[0, 3.47]}
            ticks={xTicks}
            interval={0}
            height={50}
            tickSize={-15}
            tickMargin={67}
            tick={tickStyle}
            axisLine={lineStyle}
            tickLine={lineStyle}
            label={{ value: "x", position: "bottom", offset: 113, ...labelStyle }}
          />
          <YAxis
            type="number"
            dataKey="y"
            domain={[-2, 1]}
            ticks={yTicksB}
            interval={0}
            width={100}
            tickSize={-15}
            tickMargin={46}
            tick={tickStyle}
            axisLine={lineStyle}
            tickLine={lineStyle}
            label={{ value: "y", angle: -90, position: "insideLeft", offset: -135, dy: -9, ...labelStyle }}
          />
          <Scatter name="domain" data={toPoints(bDomain)} shape={Dot} isAnimationActive={false} legendType="circle" />
          <Scatter name="boundary" data={bBoundary} shape={Ring} isAnimationActive={false} legendType="circle" />
          <Legend
            content={<LegendBox />}
            wrapperStyle={{ position: "absolute", left: 1727, top: 1146, width: 551, height: 205, bottom: "auto", right: "auto" }}
          />
        </ScatterChart>
      </div>
      <Caption left={810} letter="a" />
      <Caption left={2866} letter="b" />
    </div>
  )
}
